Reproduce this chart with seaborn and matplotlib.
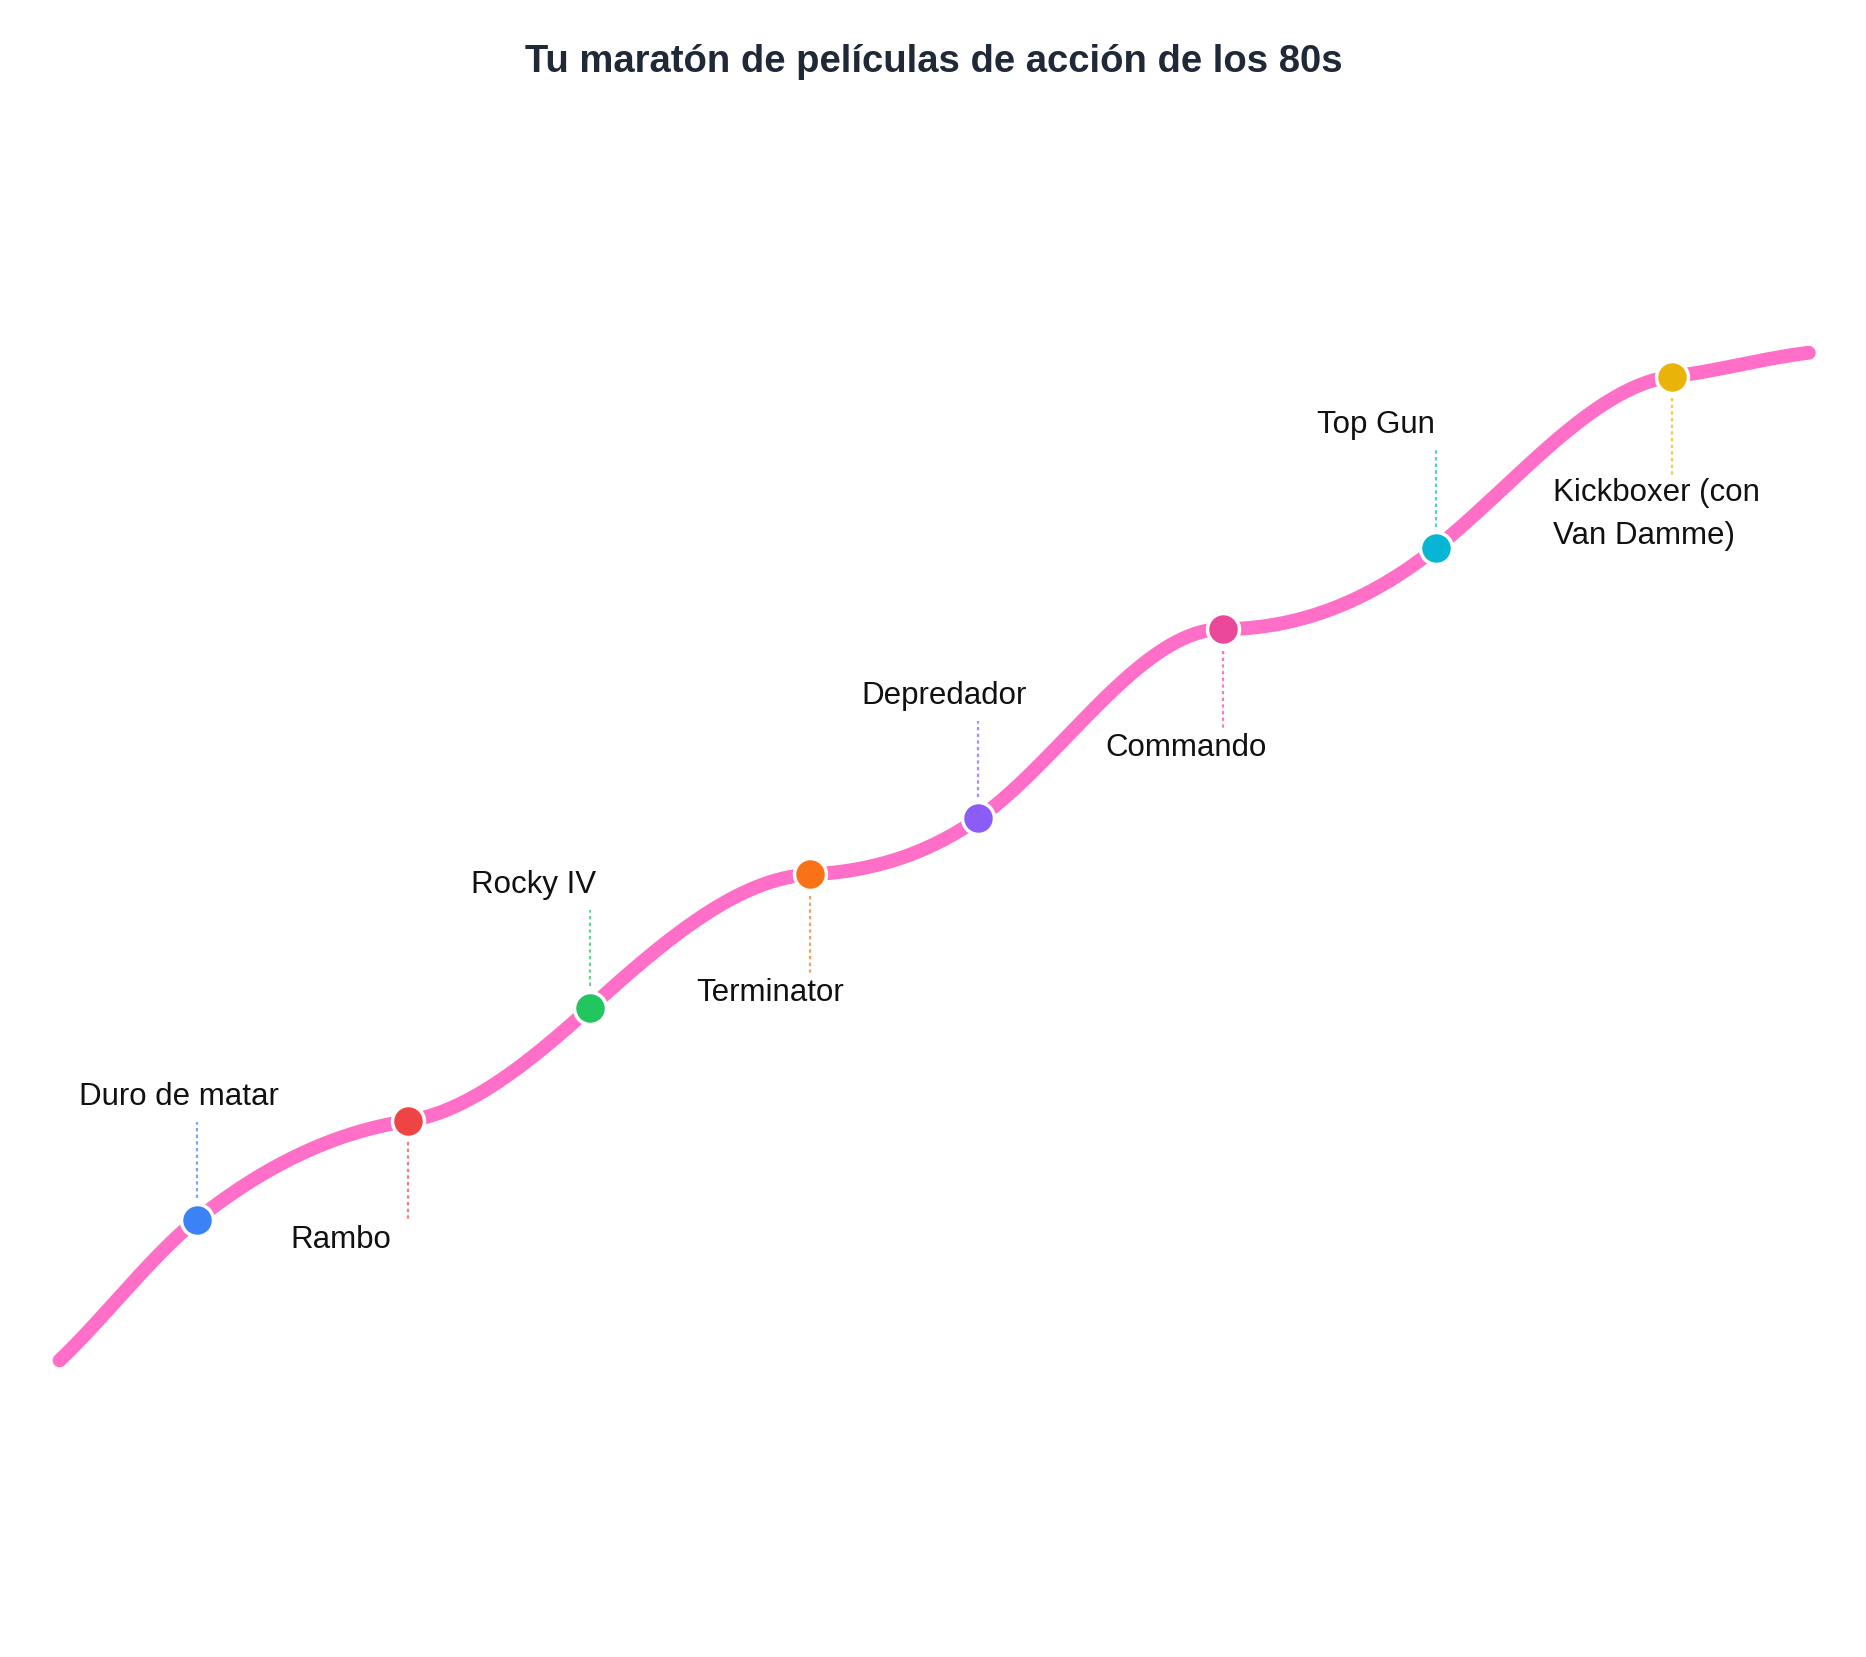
import matplotlib
matplotlib.use("Agg")
import matplotlib.pyplot as plt
import seaborn as sns
import numpy as np

movies = ["Duro de matar", "Rambo", "Rocky IV", "Terminator", "Depredador",
          "Commando", "Top Gun", "Kickboxer (con\nVan Damme)"]
px = [165, 342, 495, 680, 821, 1026, 1205, 1403]
py = [1025, 942, 847, 735, 688, 529, 461, 317]
colors = ["#3b82f6", "#ef4444", "#22c55e", "#f97316", "#8b5cf6", "#ec4899", "#06b6d4", "#eab308"]
start = (50, 1143)
end = (1518, 297)

# path style: tangent slope at each node (start, stops..., end)
slopes = [-0.95, -0.8, -0.15, -0.9, -0.05, -0.7, 0.0, -0.8, -0.12, -0.12]

# label placement (style)
side = ["up", "down", "up", "down", "up", "down", "up", "down"]
text_dx = [-15, -14, -47, -34, -29, -31, -50, -100]
ha = ["center", "right", "center", "center", "center", "center", "center", "left"]

sns.set_theme(style="white")
plt.rcParams['font.family'] = ['Liberation Sans', 'DejaVu Sans']

fig = plt.figure(figsize=(18.66, 16.58), dpi=100)
ax = fig.add_axes([0, 0, 1, 1])
ax.set_xlim(0, 1566)
ax.set_ylim(1392, 0)
ax.axis("off")

X = np.array([start[0]] + px + [end[0]], dtype=float)
Y = np.array([start[1]] + py + [end[1]], dtype=float)
M = np.array(slopes)
xs, ys = [], []
for i in range(len(X) - 1):
    h = X[i + 1] - X[i]
    t = np.linspace(0, 1, 60)
    h00 = 2 * t**3 - 3 * t**2 + 1
    h10 = t**3 - 2 * t**2 + t
    h01 = -2 * t**3 + 3 * t**2
    h11 = t**3 - t**2
    xs.append(X[i] + h * t)
    ys.append(h00 * Y[i] + h10 * h * M[i] + h01 * Y[i + 1] + h11 * h * M[i + 1])
xs = np.concatenate(xs); ys = np.concatenate(ys)
ax.plot(xs, ys, color="#ff6ec7", lw=10, solid_capstyle="round", zorder=1)

fs = 22.5
for i, name in enumerate(movies):
    x, y = px[i], py[i]
    if side[i] == "up":
        ax.plot([x, x], [y - 18, y - 82], ls=(0, (1.5, 1.5)), color=colors[i], lw=1.6, alpha=0.7, zorder=0)
        ax.text(x + text_dx[i], y - 104, name, ha=ha[i], va="center", fontsize=fs, color="#111111")
    else:
        ax.plot([x, x], [y + 18, y + 85], ls=(0, (1.5, 1.5)), color=colors[i], lw=1.6, alpha=0.7, zorder=0)
        if "\n" in name:
            ax.text(x + text_dx[i], y + 115, name, ha=ha[i], va="center", fontsize=fs,
                    color="#111111", linespacing=1.6)
        else:
            ax.text(x + text_dx[i], y + 99, name, ha=ha[i], va="center", fontsize=fs, color="#111111")
    ax.plot(x, y, "o", ms=23, color=colors[i], mec="white", mew=2.5, zorder=3)

ax.text(784, 52, "Tu maratón de películas de acción de los 80s", ha="center", va="center",
        fontsize=27.5, fontweight="bold", color="#1f2937")

fig.savefig("out.png", dpi=100)
